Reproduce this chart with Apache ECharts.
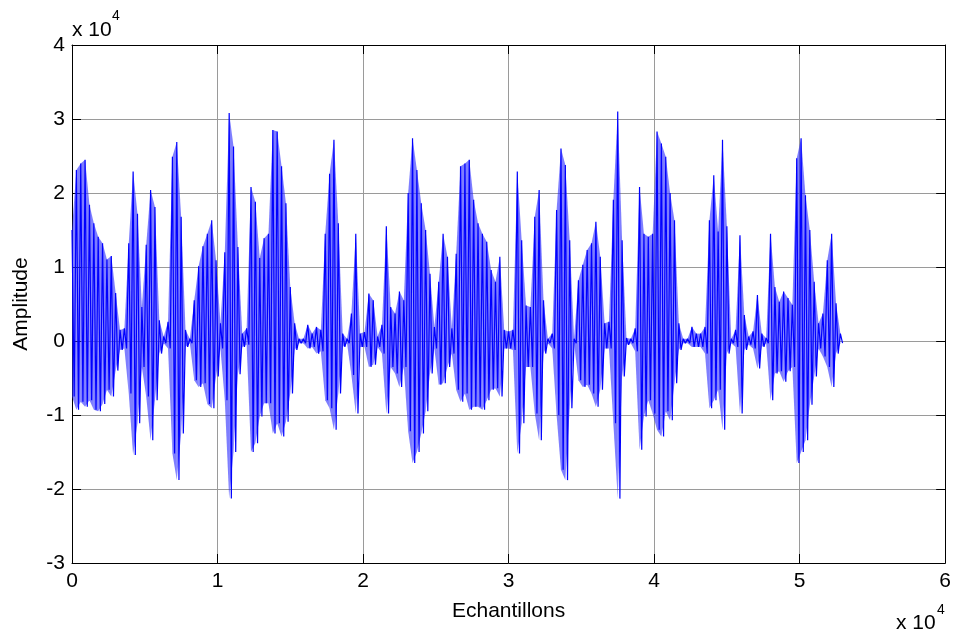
<!DOCTYPE html>
<html><head><meta charset="utf-8">
<script src="https://cdn.jsdelivr.net/npm/echarts@6/dist/echarts.min.js"></script>
<style>html,body{margin:0;padding:0;background:#fff}#c{width:954px;height:639px}</style>
</head><body><div id="c"></div>
<script>
// Waveform envelope: one column every 300 samples
const sampleStep = 300;
const upperEnvelope = [
15000,23100,24000,24500,18400,15900,14100,13200,11000,11500,
6500,1500,1700,13200,22900,17200,4600,13000,20400,18100,
2800,600,2600,24900,26900,16800,1500,300,5500,10100,
12800,14500,16300,10900,2400,12000,30800,26300,12700,1000,
1700,20800,18800,11200,13900,14500,28500,28300,23600,18600,
7300,2400,300,300,2200,1000,1900,1500,14500,22600,
27200,15900,1000,300,3700,14500,1000,1200,6400,5500,
600,2200,15500,4600,3700,6700,5500,20000,27400,23100,
18600,15000,9100,1900,8000,14500,11400,1700,11800,23600,
24000,24500,19100,15900,14500,13400,9600,8000,11400,1500,
1300,1500,22900,13600,4800,4600,16800,20400,5500,300,
1000,17700,26000,23800,13600,300,8200,10300,12300,13200,
16100,11400,2400,2600,19100,31000,13600,400,300,1700,
20800,14500,14100,14500,28300,26700,24900,20000,16300,2400,
300,300,1900,1000,1000,1900,16300,22400,14800,27200,
15500,300,1500,14300,3500,600,1300,6200,1000,400,
14500,7300,5300,6700,5800,4900,24700,27400,19700,15000,
8000,2400,3700,10900,14500,5100,1000
];
const lowerEnvelope = [
-7500,-9300,-8200,-8900,-8000,-9300,-9500,-8500,-6600,-7500,
-4000,-1200,-1000,-7100,-15400,-11100,-3500,-7500,-13400,-8000,
-1700,-300,-1000,-15200,-18800,-12500,-800,-300,-5300,-6200,
-5700,-8500,-9100,-4800,-1000,-8000,-21300,-15000,-4500,-800,
-500,-15000,-13800,-10200,-8400,-8400,-12500,-11100,-12900,-10900,
-7100,-1200,-300,-300,-1000,-800,-1700,-1400,-8000,-9100,
-12000,-7100,-800,-300,-4600,-9800,-800,-800,-3500,-3200,
-800,-1700,-9800,-3500,-4400,-6200,-3500,-12200,-16500,-15000,
-12500,-9500,-4400,-1000,-5900,-5700,-3500,-1700,-6600,-8200,
-7100,-9300,-8900,-8900,-9300,-8000,-6600,-6400,-7500,-1000,
-1000,-1200,-15200,-11100,-3500,-3500,-9800,-13400,-1700,-300,
-1000,-10000,-17400,-18800,-9100,-300,-5300,-6200,-5900,-7100,
-8900,-6600,-1000,-1000,-11100,-21300,-4800,-500,-300,-1400,
-14700,-10200,-8000,-9800,-12000,-12900,-9500,-10700,-5700,-1200,
-300,-300,-800,-800,-800,-1700,-9100,-8000,-6600,-12000,
-1700,-300,-800,-9800,-1200,-500,-1000,-3700,-800,-300,
-8000,-4400,-4100,-5500,-4100,-3500,-16500,-15000,-13400,-8600,
-4800,-1000,-2100,-3500,-6200,-1700,-300
];
const xTickLabels = ['0','1','2','3','4','5','6'];
const yTickLabels = ['-3','-2','-1','0','1','2','3','4'];
const axisScale = 10000;
const xTitle = 'Echantillons';
const yTitle = 'Amplitude';

const FONT = '"Liberation Sans", Arial, sans-serif';
const xs = upperEnvelope.map((_, i) => i * sampleStep);
const zig = [];
xs.forEach((x, i) => { zig.push([x, upperEnvelope[i]]); zig.push([x + sampleStep / 2, lowerEnvelope[i]]); });
// band segments between consecutive envelope columns
const bandData = [];
for (let i = 0; i < xs.length - 1; i++) {
  bandData.push([xs[i], upperEnvelope[i], lowerEnvelope[i], xs[i + 1], upperEnvelope[i + 1], lowerEnvelope[i + 1]]);
}

const xMin = 0, xMax = (xTickLabels.length - 1) * axisScale;
const yMin = Number(yTickLabels[0]) * axisScale, yMax = Number(yTickLabels[yTickLabels.length - 1]) * axisScale;

const lineBlack = { color: '#000', width: 1 };
const tick = { show: true, inside: true, length: 9, lineStyle: { color: '#000', width: 1 } };
const labelStyle = { color: '#000', fontSize: 21, fontFamily: FONT };

const chart = echarts.init(document.getElementById('c'), null, { renderer: 'canvas' });
chart.setOption({
  animation: false,
  backgroundColor: '#fff',
  grid: { left: 72, right: 7, top: 45, bottom: 76, containLabel: false },
  xAxis: [
    { type: 'value', position: 'bottom', min: xMin, max: xMax, interval: axisScale,
      axisLine: { show: true, onZero: false, lineStyle: lineBlack }, axisTick: tick,
      axisLabel: { ...labelStyle, margin: 8, formatter: v => xTickLabels[Math.round(v / axisScale)] },
      splitLine: { show: true, lineStyle: { color: '#9a9a9a', width: 1 } },
      name: xTitle, nameLocation: 'middle', nameGap: 38, nameTextStyle: { ...labelStyle } },
    { type: 'value', position: 'top', min: xMin, max: xMax, interval: axisScale,
      axisLine: { show: true, onZero: false, lineStyle: lineBlack }, axisTick: tick,
      axisLabel: { show: false }, splitLine: { show: false } }
  ],
  yAxis: [
    { type: 'value', position: 'left', min: yMin, max: yMax, interval: axisScale,
      axisLine: { show: true, onZero: false, lineStyle: lineBlack }, axisTick: tick,
      axisLabel: { ...labelStyle, margin: 7, formatter: v => yTickLabels[Math.round((v - yMin) / axisScale)] },
      splitLine: { show: true, lineStyle: { color: '#9a9a9a', width: 1 } },
      name: yTitle, nameLocation: 'middle', nameGap: 40, nameRotate: 90, nameTextStyle: { ...labelStyle } },
    { type: 'value', position: 'right', min: yMin, max: yMax, interval: axisScale,
      axisLine: { show: true, onZero: false, lineStyle: lineBlack }, axisTick: tick,
      axisLabel: { show: false }, splitLine: { show: false } }
  ],
  series: [
    { type: 'custom', data: bandData, silent: true, clip: true,
      encode: { x: [0, 3], y: [1, 2, 4, 5] },
      renderItem: function (params, api) {
        const p1 = api.coord([api.value(0), api.value(1)]);
        const p2 = api.coord([api.value(3), api.value(4)]);
        const p3 = api.coord([api.value(3), api.value(5)]);
        const p4 = api.coord([api.value(0), api.value(2)]);
        return { type: 'polygon', shape: { points: [p1, p2, p3, p4] },
          style: { fill: 'rgba(40,40,255,0.6)', stroke: null } };
      } },
    { type: 'line', data: zig, symbol: 'none', silent: true, lineStyle: { color: '#0000ff', width: 1.2 } }
  ],
  graphic: [
    { type: 'text', left: 72, top: 20, style: { text: 'x 10', font: '21px ' + FONT, fill: '#000' } },
    { type: 'text', left: 112, top: 9, style: { text: '4', font: '14px ' + FONT, fill: '#000' } },
    { type: 'text', left: 896, top: 613, style: { text: 'x 10', font: '21px ' + FONT, fill: '#000' } },
    { type: 'text', left: 937, top: 603, style: { text: '4', font: '14px ' + FONT, fill: '#000' } }
  ]
});
</script></body></html>
